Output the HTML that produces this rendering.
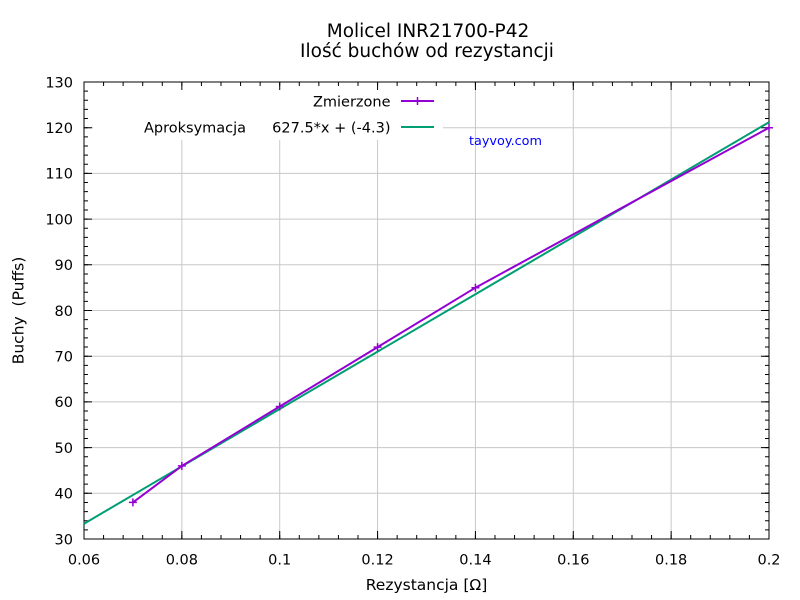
<!DOCTYPE html>
<html>
<head>
<meta charset="utf-8">
<style>
html,body{margin:0;padding:0;background:#fff;}
svg{display:block;}
text{font-family:"DejaVu Sans","Liberation Sans",sans-serif;fill:#000;}
</style>
</head>
<body>
<svg width="800" height="600" viewBox="0 0 800 600" xmlns="http://www.w3.org/2000/svg">
<rect x="0" y="0" width="800" height="600" fill="#fff"/>

<!-- grid -->
<g stroke="#c8c8c8" stroke-width="1" fill="none">
  <path d="M181.86 82V539M279.71 82V539M377.57 82V539M475.43 82V539M573.29 82V539M671.14 82V539"/>
  <path d="M84 493.3H769M84 447.6H769M84 401.9H769M84 356.2H769M84 310.5H769M84 264.8H769M84 219.1H769M84 173.4H769M84 127.7H769"/>
</g>

<!-- opaque key box -->
<rect x="93" y="83" width="350" height="57" fill="#fff"/>

<!-- ticks -->
<g stroke="#000" fill="none">
  <line x1="83.5" y1="537" x2="769.5" y2="537" stroke-width="4" stroke-dasharray="1 18.571"/>
  <line x1="83.5" y1="535" x2="769.5" y2="535" stroke-width="8" stroke-dasharray="1 96.857"/>
  <line x1="83.5" y1="84" x2="769.5" y2="84" stroke-width="4" stroke-dasharray="1 18.571"/>
  <line x1="83.5" y1="86" x2="769.5" y2="86" stroke-width="8" stroke-dasharray="1 96.857"/>
  <line x1="86" y1="539.5" x2="86" y2="81.5" stroke-width="4" stroke-dasharray="1 8.14"/>
  <line x1="88" y1="539.5" x2="88" y2="81.5" stroke-width="8" stroke-dasharray="1 44.7"/>
  <line x1="767" y1="539.5" x2="767" y2="81.5" stroke-width="4" stroke-dasharray="1 8.14"/>
  <line x1="765" y1="539.5" x2="765" y2="81.5" stroke-width="8" stroke-dasharray="1 44.7"/>
</g>

<!-- border -->
<rect x="84" y="82" width="685" height="457" fill="none" stroke="#000" stroke-width="1"/>

<!-- y tick labels -->
<g font-size="14.5" text-anchor="end">
  <text x="73" y="544.3">30</text>
  <text x="73" y="498.6">40</text>
  <text x="73" y="452.9">50</text>
  <text x="73" y="407.2">60</text>
  <text x="73" y="361.5">70</text>
  <text x="73" y="315.8">80</text>
  <text x="73" y="270.1">90</text>
  <text x="73" y="224.4">100</text>
  <text x="73" y="178.7">110</text>
  <text x="73" y="133">120</text>
  <text x="73" y="87.3">130</text>
</g>

<!-- x tick labels -->
<g font-size="14.5" text-anchor="middle">
  <text x="84" y="564.5">0.06</text>
  <text x="181.86" y="564.5">0.08</text>
  <text x="279.71" y="564.5">0.1</text>
  <text x="377.57" y="564.5">0.12</text>
  <text x="475.43" y="564.5">0.14</text>
  <text x="573.29" y="564.5">0.16</text>
  <text x="671.14" y="564.5">0.18</text>
  <text x="769" y="564.5">0.2</text>
</g>

<!-- axis labels -->
<text x="426.5" y="590" font-size="15.5" text-anchor="middle">Rezystancja [Ω]</text>
<text transform="translate(23.5,310.5) rotate(-90)" font-size="15.5" text-anchor="middle" xml:space="preserve">Buchy  (Puffs)</text>

<!-- title -->
<text x="428" y="37" font-size="18.5" text-anchor="middle">Molicel INR21700-P42</text>
<text x="427" y="57" font-size="18.5" text-anchor="middle">Ilość buchów od rezystancji</text>

<!-- fit line -->
<line x1="84" y1="523.7" x2="769" y2="122.2" stroke="#009e73" stroke-width="2"/>

<!-- measured -->
<polyline points="132.9,502.4 181.86,465.9 279.71,406.5 377.57,347.1 475.43,287.7 769,127.7" fill="none" stroke="#9400d3" stroke-width="2"/>
<g stroke="#9400d3" stroke-width="1.5">
  <path d="M128.9 502.4h8M132.9 498.4v8"/>
  <path d="M177.86 465.9h8M181.86 461.9v8"/>
  <path d="M275.71 406.5h8M279.71 402.5v8"/>
  <path d="M373.57 347.1h8M377.57 343.1v8"/>
  <path d="M471.43 287.7h8M475.43 283.7v8"/>
  <path d="M765 127.7h8M769 123.7v8"/>
</g>

<!-- legend -->
<text x="390.5" y="106.5" font-size="14.5" text-anchor="end">Zmierzone</text>
<line x1="401" y1="101" x2="434" y2="101" stroke="#9400d3" stroke-width="2"/>
<path d="M413.5 101h8M417.5 97v8" stroke="#9400d3" stroke-width="1.5"/>
<text x="144" y="132.5" font-size="14.5">Aproksymacja</text>
<text x="390.5" y="132.5" font-size="14.5" text-anchor="end">627.5*x + (-4.3)</text>
<line x1="401" y1="127" x2="434" y2="127" stroke="#009e73" stroke-width="2"/>

<!-- watermark -->
<text x="469" y="145" font-size="12.8" style="fill:#0000ff">tayvoy.com</text>
</svg>
</body>
</html>
